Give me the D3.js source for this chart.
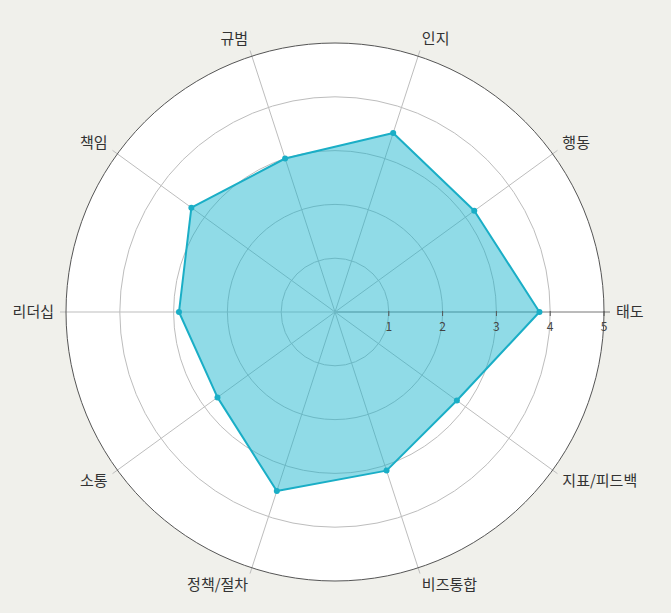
<!DOCTYPE html>
<html>
<head>
<meta charset="utf-8">
<script src="https://cdn.jsdelivr.net/npm/d3@7"></script>
<style>
  html, body { margin: 0; padding: 0; background: #f0f0eb; }
  svg { display: block; font-family: "Noto Sans CJK KR", "Noto Sans", sans-serif; }
</style>
</head>
<body>
<div id="chart"></div>
<script>
// axis order, counter-clockwise from the right
const categories = ["태도", "행동", "인지", "규범", "책임", "리더십", "소통", "정책/절차", "비즈통합", "지표/피드백"]
const scores = [3.8, 3.2, 3.5, 3.0, 3.3, 2.9, 2.7, 3.5, 3.1, 2.8]
const tickValues = [1, 2, 3, 4, 5]

const width = 671, height = 613
const cx = 335, cy = 312, outer = 269

const svg = d3.select("#chart").append("svg")
    .attr("width", width)
    .attr("height", height)

const r = d3.scaleLinear().domain([0, 5]).range([0, outer])
const angle = d3.scaleLinear().domain([0, categories.length]).range([0, 2 * Math.PI])

const g = svg.append("g").attr("transform", `translate(${cx},${cy})`)

// white plot area
g.append("circle").attr("r", r(5)).attr("fill", "#fff")

// rings
g.selectAll(".ring")
    .data(tickValues.slice(0, -1))
    .join("circle")
    .attr("class", "ring")
    .attr("r", d => r(d))
    .attr("fill", "none")
    .attr("stroke", "#bdbdbd")
    .attr("stroke-width", 1)

// spokes, run a little past the outer circle
g.selectAll(".spoke")
    .data(categories)
    .join("line")
    .attr("class", "spoke")
    .attr("x1", 0).attr("y1", 0)
    .attr("x2", (d, i) => (outer + 6) * Math.cos(angle(i)))
    .attr("y2", (d, i) => -(outer + 6) * Math.sin(angle(i)))
    .attr("stroke", (d, i) => i === 0 ? "#777" : "#bdbdbd")
    .attr("stroke-width", 1)

// outer circle
g.append("circle").attr("r", r(5))
    .attr("fill", "none")
    .attr("stroke", "#555")
    .attr("stroke-width", 1)

// filled area
const line = d3.lineRadial()
    .angle((d, i) => Math.PI / 2 - angle(i))
    .radius(d => r(d))
    .curve(d3.curveLinearClosed)

g.append("path")
    .datum(scores)
    .attr("d", line)
    .attr("fill", "#17b4cc")
    .attr("fill-opacity", 0.48)
    .attr("stroke", "#1aaec6")
    .attr("stroke-width", 2)
    .attr("stroke-linejoin", "round")

g.selectAll(".pt")
    .data(scores)
    .join("circle")
    .attr("class", "pt")
    .attr("cx", (d, i) => r(d) * Math.cos(angle(i)))
    .attr("cy", (d, i) => -r(d) * Math.sin(angle(i)))
    .attr("r", 3)
    .attr("fill", "#1aaec6")

// radial axis along 0 deg
const ax = g.append("g")
ax.selectAll("line")
    .data(tickValues)
    .join("line")
    .attr("x1", d => r(d)).attr("x2", d => r(d))
    .attr("y1", -1).attr("y2", 4)
    .attr("stroke", "#555")
ax.selectAll("text")
    .data(tickValues)
    .join("text")
    .attr("x", d => r(d))
    .attr("y", 19)
    .attr("text-anchor", "middle")
    .style("font-size", "12px")
    .style("fill", "#444")
    .text(d => d)

// category labels
g.selectAll(".lab")
    .data(categories)
    .join("text")
    .attr("class", "lab")
    .attr("x", (d, i) => (outer + 12) * Math.cos(angle(i)))
    .attr("y", (d, i) => -(outer + 12) * Math.sin(angle(i)) - 6 * Math.sin(angle(i)) + 5)
    .attr("text-anchor", (d, i) => {
        const c = Math.cos(angle(i))
        return Math.abs(c) < 0.01 ? "middle" : (c > 0 ? "start" : "end")
    })
    .style("font-size", "15px")
    .style("fill", "#333")
    .text(d => d)
</script>
</body>
</html>
